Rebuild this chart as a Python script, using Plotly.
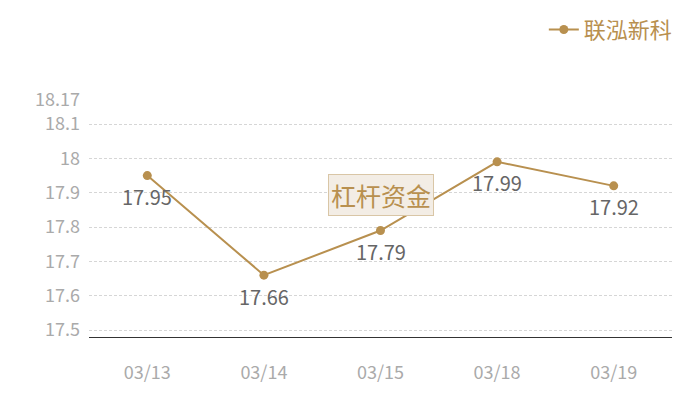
import plotly.graph_objects as go

dates = ["03/13", "03/14", "03/15", "03/18", "03/19"]
values = [17.95, 17.66, 17.79, 17.99, 17.92]
value_labels = ["17.95", "17.66", "17.79", "17.99", "17.92"]
y_ticks = [17.5, 17.6, 17.7, 17.8, 17.9, 18.0, 18.1, 18.17]
y_tick_labels = ["17.5", "17.6", "17.7", "17.8", "17.9", "18", "18.1", "18.17"]
series_name = "联泓新科"
watermark = "杠杆资金"

gold = "#b8904f"
font = "Noto Sans CJK SC, Noto Sans, sans-serif"

fig = go.Figure()
fig.add_trace(go.Scatter(
    x=dates, y=values, name=series_name,
    mode="lines+markers",
    line=dict(color=gold, width=2),
    marker=dict(color=gold, size=9),
    cliponaxis=False,
))

annotations = [
    dict(x=d, y=v, xref="x", yref="y", text=t, showarrow=False,
         yshift=-21, font=dict(color="#666666", size=20, family=font))
    for d, v, t in zip(dates, values, value_labels)
]
annotations.append(dict(
    text=watermark, xref="paper", yref="paper", x=0.5, y=0.6,
    showarrow=False, font=dict(color=gold, size=25, family=font),
    bgcolor="#f3ede5", bordercolor="#d9c6a6", borderwidth=1, borderpad=2,
))

fig.update_layout(
    width=700, height=400,
    margin=dict(l=81, r=36, t=92, b=71, autoexpand=False),
    plot_bgcolor="white", paper_bgcolor="white",
    font=dict(family=font),
    showlegend=True,
    legend=dict(x=1.01, y=1.385, xanchor="right", yanchor="top",
                font=dict(color=gold, size=22, family=font),
                bgcolor="rgba(0,0,0,0)", itemwidth=30),
    xaxis=dict(type="category", range=[-0.5, 4.5], showgrid=False,
               showline=True, linecolor="#333333", linewidth=1,
               ticks="", tickfont=dict(color="#aaaaaa", size=18, family=font),
               ticklabelstandoff=19),
    yaxis=dict(range=[17.48, 18.17], tickvals=y_ticks, ticktext=y_tick_labels,
               showgrid=True, gridcolor="#d6d6d6", griddash="3px,2px", gridwidth=1,
               zeroline=False, showline=False, ticks="",
               tickfont=dict(color="#aaaaaa", size=18, family=font),
               ticklabelstandoff=8),
    annotations=annotations,
)

fig.write_html("out.html")
